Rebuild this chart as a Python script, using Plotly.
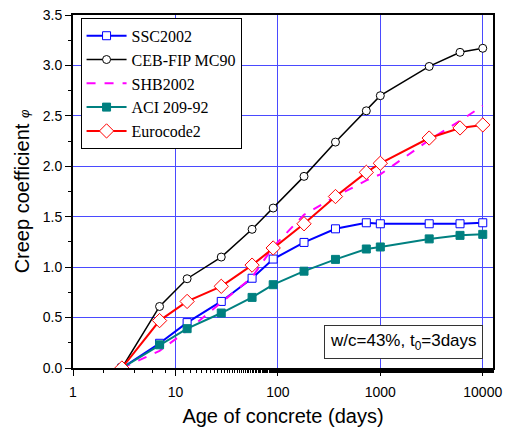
import plotly.graph_objects as go

days = [3, 7, 13, 28, 56, 90, 180, 365, 730, 1000, 3000, 6000, 10000]
ssc2002 = [0.0, 0.245, 0.45, 0.66, 0.89, 1.08, 1.245, 1.38, 1.44, 1.43, 1.43, 1.43, 1.44]
ceb_fip = [0.0, 0.61, 0.885, 1.10, 1.375, 1.586, 1.90, 2.24, 2.55, 2.70, 2.99, 3.13, 3.17]
shb_days = [3, 7, 13, 28, 56, 90, 180, 365, 730, 1000, 3000, 6000, 10000]
shb2002 = [0.0, 0.17, 0.37, 0.65, 0.90, 1.20, 1.52, 1.70, 1.86, 1.92, 2.26, 2.45, 2.60]
aci209 = [0.0, 0.23, 0.39, 0.545, 0.70, 0.826, 0.96, 1.077, 1.18, 1.20, 1.28, 1.315, 1.325]
eurocode2 = [0.0, 0.47, 0.66, 0.81, 1.02, 1.19, 1.43, 1.70, 1.94, 2.03, 2.28, 2.38, 2.41]

fig = go.Figure()
fig.add_trace(go.Scatter(x=days, y=ssc2002, name="SSC2002", mode="lines+markers",
                         line=dict(color="#0000ff", width=2),
                         marker=dict(symbol="square", size=8, color="white",
                                     line=dict(color="#0000ff", width=1))))
fig.add_trace(go.Scatter(x=days, y=ceb_fip, name="CEB-FIP MC90", mode="lines+markers",
                         line=dict(color="black", width=1.5),
                         marker=dict(symbol="circle", size=8, color="white",
                                     line=dict(color="black", width=1))))
fig.add_trace(go.Scatter(x=shb_days, y=shb2002, name="SHB2002", mode="lines",
                         line=dict(color="#ff00ff", width=2, dash="dash")))
fig.add_trace(go.Scatter(x=days, y=aci209, name="ACI 209-92", mode="lines+markers",
                         line=dict(color="#008080", width=2),
                         marker=dict(symbol="square", size=8, color="#008080",
                                     line=dict(color="#008080", width=1))))
fig.add_trace(go.Scatter(x=days, y=eurocode2, name="Eurocode2", mode="lines+markers",
                         line=dict(color="#ff0000", width=2),
                         marker=dict(symbol="diamond", size=11, color="white",
                                     line=dict(color="#ff0000", width=1))))

fig.update_layout(
    width=509, height=428,
    margin=dict(l=73, r=16, t=15, b=60),
    paper_bgcolor="white", plot_bgcolor="white",
    font=dict(family="Arial, Liberation Sans", size=14, color="black"),
    showlegend=True,
    legend=dict(x=0.018, y=0.992, xanchor="left", yanchor="top",
                bgcolor="white", bordercolor="black", borderwidth=1,
                font=dict(family="Liberation Serif, Times New Roman", size=16, color="black"),
                tracegroupgap=0, itemwidth=40),
    xaxis=dict(type="log", range=[0, 4.1], automargin=False,
               tickvals=[1, 10, 100, 1000, 10000],
               ticktext=["1", "10", "100", "1000", "10000"],
               tickfont=dict(size=14), ticklabelstandoff=4,
               ticks="outside", ticklen=6, tickcolor="black",
               minor=dict(ticks="outside", ticklen=3, tickcolor="black", showgrid=False),
               showgrid=True, gridcolor="#4a4aff", gridwidth=1,
               showline=True, linecolor="black", linewidth=2, mirror=True,
               zeroline=False,
               title=dict(text="Age of concrete (days)", font=dict(size=20), standoff=10)),
    yaxis=dict(range=[0, 3.5], dtick=0.5, tickformat=".1f", automargin=False,
               tickfont=dict(size=14),
               ticks="outside", ticklen=6, tickcolor="black",
               minor=dict(ticks="outside", ticklen=3, tickcolor="black", dtick=0.25, showgrid=False),
               showgrid=True, gridcolor="#4a4aff", gridwidth=1,
               showline=True, linecolor="black", linewidth=2, mirror=True,
               zeroline=False,
               title=dict(text="Creep coefficient <span style='font-size:13px'><i>φ</i></span>",
                          font=dict(size=20), standoff=8)),
)

fig.add_annotation(xref="paper", yref="paper", x=0.976, y=0.025, xanchor="right", yanchor="bottom",
                   text="w/c=43%, t<sub>0</sub>=3days", showarrow=False,
                   font=dict(family="Arial, Liberation Sans", size=17, color="black"),
                   bgcolor="white", bordercolor="#333333", borderwidth=1, borderpad=5)

fig.write_html("out.html")
